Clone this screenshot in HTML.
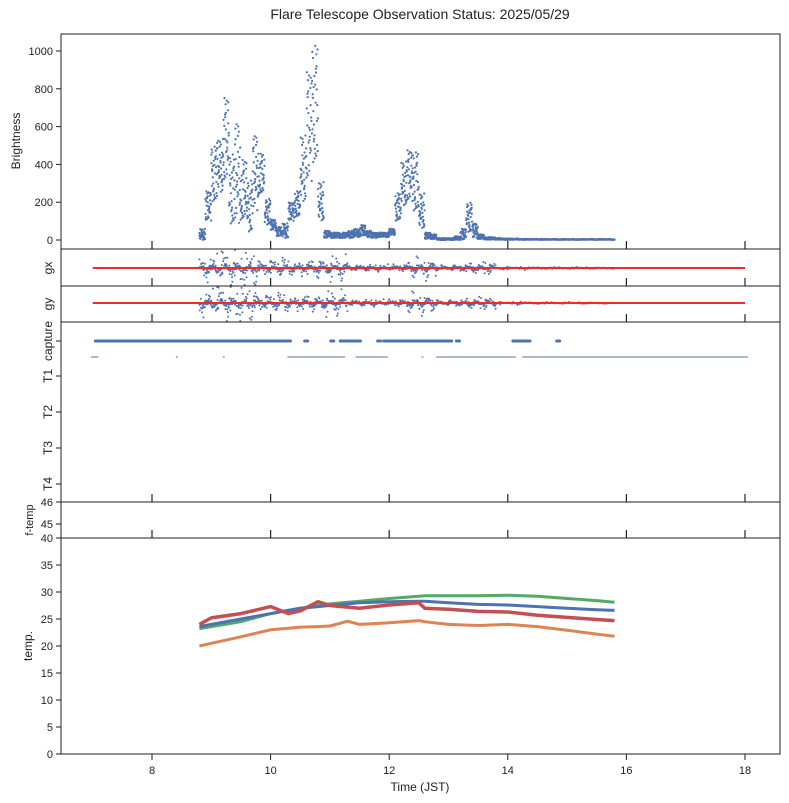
<!DOCTYPE html>
<html><head><meta charset="utf-8"><style>
body{margin:0;background:#fff;}
svg{font-family:"Liberation Sans",sans-serif;}
</style></head><body>
<svg id="c" width="789" height="798" viewBox="0 0 789 798" xmlns="http://www.w3.org/2000/svg">
<text x="420" y="19" font-size="14" text-anchor="middle" fill="#222">Flare Telescope Observation Status: 2025/05/29</text>
<g id="g"></g>
</svg>
<script>
// ---- data ----
const bTimes=[8.8,8.9,9.0,9.1,9.2,9.3,9.4,9.5,9.6,9.7,9.8,9.9,10.0,10.1,10.2,10.3,10.4,10.5,10.6,10.7,10.8,10.9,11.0,11.1,11.2,11.3,11.4,11.5,11.6,11.7,11.8,11.9,12.0,12.1,12.2,12.3,12.4,12.5,12.6,12.7,12.8,12.9,13.0,13.1,13.2,13.3,13.4,13.5,13.6,13.7,13.8,13.9,14.0,14.2,14.4,14.6,14.8,15.0,15.2,15.4,15.6,15.8];
const bHigh=[60,260,500,540,760,460,640,430,320,570,460,220,110,70,90,200,260,560,900,1040,310,50,40,40,40,50,60,80,50,40,40,40,60,250,420,480,470,250,40,30,10,10,10,20,60,200,90,30,15,15,10,8,8,6,6,5,5,5,5,5,5,5];
const bLow=[0,100,200,250,300,80,80,100,40,150,240,80,50,20,10,100,120,200,300,400,100,10,10,10,10,10,15,20,15,10,15,15,25,100,180,200,150,60,5,5,0,0,0,0,0,40,10,5,2,2,2,1,1,1,1,1,1,1,1,1,1,1];
const gTimes=[8.8,9.3,9.8,10.3,10.8,11.3,11.8,12.3,12.8,13.3,13.8,14.3,14.8,15.3,15.8];
const gxSpread=[1.0,1.0,0.6,0.5,0.8,0.2,0.2,0.6,0.2,0.4,0.1,0.06,0.05,0.05,0.05];
const gySpread=[1.0,1.0,0.6,0.5,0.8,0.2,0.2,0.6,0.2,0.4,0.1,0.06,0.05,0.05,0.05];
const captureRow=[[7.07,10.31],[10.6,10.6],[11.04,11.04],[11.2,11.49],[11.83,11.83],[11.93,13.03],[13.16,13.16],[14.11,14.35],[14.85,14.85]];
const t1Row=[[6.99,7.08],[8.42,8.42],[9.21,9.21],[10.3,11.24],[11.45,11.96],[12.56,12.56],[12.81,14.12],[14.26,14.85],[14.87,18.03]];
const tTimes=[8.8,9.0,9.5,10.0,10.3,10.5,10.8,11.0,11.3,11.5,12.0,12.5,12.6,13.0,13.5,14.0,14.5,15.0,15.5,15.8];
const tGreen=[23.2,23.6,24.5,26.0,26.6,27.0,27.5,27.8,28.1,28.3,28.8,29.2,29.3,29.3,29.3,29.4,29.2,28.8,28.4,28.1];
const tBlue=[23.6,24.0,25.0,26.0,26.6,27.0,27.3,27.5,27.8,28.0,28.2,28.3,28.3,28.0,27.7,27.6,27.3,27.0,26.7,26.6];
const tRed=[24.0,25.2,26.0,27.3,26.0,26.5,28.2,27.5,27.2,27.0,27.6,28.0,27.0,26.8,26.4,26.3,25.7,25.3,24.9,24.7];
const tOrange=[20.0,20.5,21.7,23.0,23.3,23.5,23.6,23.7,24.6,24.0,24.3,24.7,24.5,24.0,23.8,24.0,23.6,22.9,22.2,21.8];
const xTicks=[8,10,12,14,16,18];
const bTicks=[0,200,400,600,800,1000];
const tempTicks=[0,5,10,15,20,25,30,35,40];
// ---- scales ----
const L=61,R=780;
const X=t=>152+(t-8)*59.3;
const YB=v=>240-v*0.189;
const YT=v=>754-v*5.4;
const YGX=v=>268-v*16;
const YGY=v=>303-v*16;
const NS="http://www.w3.org/2000/svg";
const G=document.getElementById('g');
function mk(tag,at,parent){const e=document.createElementNS(NS,tag);for(const k in at)e.setAttribute(k,at[k]);(parent||G).appendChild(e);return e;}
// fixed scatter layout sequences (rendering only)
const pat=[0.62,0.13,0.88,0.41,0.07,0.73,0.29,0.95,0.51,0.19,0.84,0.36,0.66,0.02,0.47,0.91,0.24,0.58,0.11,0.79,0.33,0.69,0.16,0.98,0.44,0.27,0.81,0.05,0.55,0.38,0.76,0.21,0.93,0.49,0.09,0.64,0.31];
const spr=[0.3,1.2,0.15,0.6,0.25,0.9,0.1,0.45,1.4,0.2,0.7,0.35,0.05,1.0,0.4,0.18,0.8,0.28,0.55,0.12,1.1,0.22,0.65,0.08,0.5,0.32,0.95,0.16,0.42];
const blue='#4c72b0';
// brightness points
const bGroup=mk('g',{});


const NB=32;
for(let i=0;i<bTimes.length;i++){
  const dt=(i<bTimes.length-1?bTimes[i+1]-bTimes[i]:0.1);
  for(let k=0;k<NB;k++){
    const t=bTimes[i]+dt*k/NB;
    const v=bLow[i]+(bHigh[i]-bLow[i])*pat[(k*11+i*5)%pat.length];
    if(t>15.8)continue;
    mk('circle',{cx:X(t).toFixed(1),cy:YB(v).toFixed(1),r:1.1,fill:blue},bGroup);
  }
}
// gx / gy
function gPanel(spread,Yf,name,top,bot,off){
  const grp=mk('g',{});
  
  
  let c=off;
  for(let i=0;i<gTimes.length-1;i++){
    const n=spread[i]>0.15?90:50;
    for(let k=0;k<n;k++){
      c++;
      const t=gTimes[i]+0.5*k/n;
      const s=spread[i];
      const v=(pat[(c*7)%pat.length]-0.5)*2*s*spr[(c*3)%spr.length];
      const y=Math.max(top+1,Math.min(bot-1,Yf(v)));
      mk('circle',{cx:X(t).toFixed(1),cy:y.toFixed(1),r:1,fill:blue},grp);
    }
  }
}
gPanel(gxSpread,YGX,'gx-series',249,286,0);
gPanel(gySpread,YGY,'gy-series',286,322,13);
const rx=mk('line',{x1:X(7),x2:X(18),y1:268,y2:268,stroke:'#ee2a2a','stroke-width':2});


const ry=mk('line',{x1:X(7),x2:X(18),y1:303,y2:303,stroke:'#ee2a2a','stroke-width':2});


// capture rows
captureRow.forEach(s=>{const e=mk('line',{x1:X(s[0])-1.5,x2:X(s[1])+1.5,y1:341,y2:341,stroke:blue,'stroke-width':3,'stroke-linecap':'round'});

});
t1Row.forEach(s=>{const e=mk('line',{x1:X(s[0])-1,x2:X(s[1])+1,y1:357,y2:357,stroke:'#5a6f95','stroke-width':1});

});
// temps
function tl(arr,col,name,w){const p=arr.map((v,i)=>X(tTimes[i]).toFixed(1)+','+YT(v).toFixed(1)).join(' ');
const e=mk('polyline',{points:p,fill:'none',stroke:col,'stroke-width':w,'stroke-linejoin':'round'});

}
tl(tOrange,'#dd8452','temp-orange-line',3);
tl(tGreen,'#55a868','temp-green-line',3);
tl(tBlue,'#4c72b0','temp-blue-line',3);
tl(tRed,'#c44e52','temp-red-line',3.5);
// frames
const panels=[[34,249],[249,286],[286,322],[322,502],[502,538],[538,754]];
panels.forEach((p,i)=>{const e=mk('rect',{x:L,y:p[0],width:R-L,height:p[1]-p[0],fill:'none',stroke:'#222','stroke-width':1});


xTicks.forEach(t=>{ if(i<5) mk('line',{x1:X(t),x2:X(t),y1:p[1]-8,y2:p[1],stroke:'#222','stroke-width':1.2}); });
});
xTicks.forEach(t=>{mk('line',{x1:X(t),x2:X(t),y1:754,y2:760,stroke:'#222'});
const e=mk('text',{x:X(t),y:774,'font-size':11,'text-anchor':'middle',fill:'#222'});e.textContent=t;

});
bTicks.forEach(v=>{mk('line',{x1:L-5,x2:L,y1:YB(v),y2:YB(v),stroke:'#222'});
const e=mk('text',{x:L-8,y:YB(v)+4,'font-size':11,'text-anchor':'end',fill:'#222'});e.textContent=v;

});
tempTicks.forEach(v=>{mk('line',{x1:L-5,x2:L,y1:YT(v),y2:YT(v),stroke:'#222'});
const e=mk('text',{x:L-8,y:YT(v)+4,'font-size':11,'text-anchor':'end',fill:'#222'});e.textContent=v;

});
[[46,502],[45,524]].forEach(a=>{mk('line',{x1:L-5,x2:L,y1:a[1],y2:a[1],stroke:'#222'});
const e=mk('text',{x:L-8,y:a[1]+4,'font-size':11,'text-anchor':'end',fill:'#222'});e.textContent=a[0];

});
function rl(txt,x,y,name,fs){const e=mk('text',{x:x,y:y,'font-size':fs||12,'text-anchor':'middle',fill:'#222',transform:`rotate(-90 ${x} ${y})`});e.textContent=txt;

}
rl('Brightness',20,141,'brightness-axis-title');
rl('gx',52,268,'gx-axis-title');
rl('gy',52,304,'gy-axis-title');
[['capture',341],['T1',376],['T2',412],['T3',448],['T4',484]].forEach(a=>{mk('line',{x1:L-5,x2:L,y1:a[1],y2:a[1],stroke:'#222'});rl(a[0],52,a[1],'capture-row-label');});
rl('f-temp',33,520,'ftemp-axis-title',11);
rl('temp.',32,646,'temp-axis-title');
const xt=mk('text',{x:420,y:791,'font-size':12,'text-anchor':'middle',fill:'#222'});xt.textContent='Time (JST)';


</script>
</body></html>
